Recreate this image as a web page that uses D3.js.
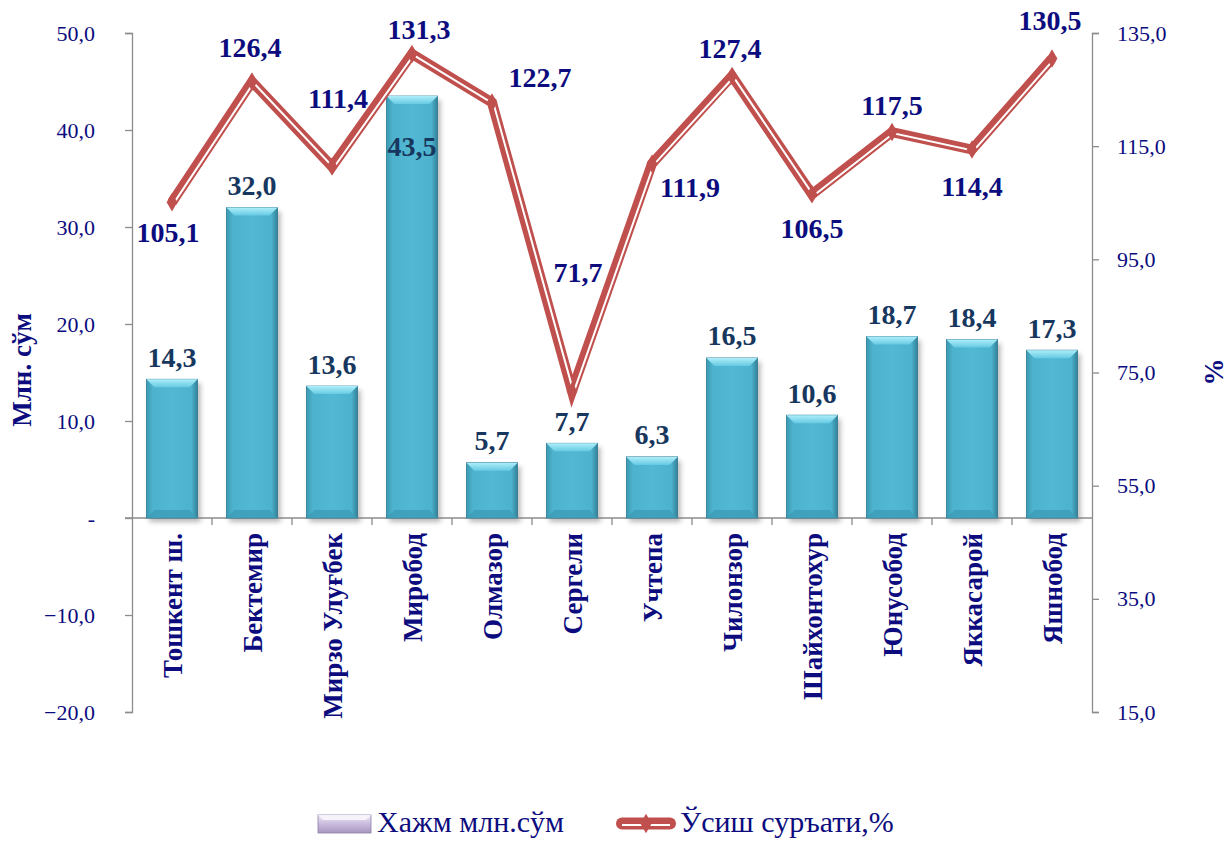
<!DOCTYPE html>
<html>
<head>
<meta charset="utf-8">
<script src="https://cdn.jsdelivr.net/npm/d3@7/dist/d3.min.js"></script>
<style>
  html, body { margin: 0; padding: 0; background: #ffffff; }
  svg { display: block; font-family: "Liberation Serif", "Times New Roman", serif; }
</style>
</head>
<body>
<svg id="chart" width="1228" height="841"></svg>
<script>
// Districts of Tashkent city
const categories = ["Тошкент ш.", "Бектемир", "Мирзо Улуғбек", "Миробод", "Олмазор", "Сергели",
  "Учтепа", "Чилонзор", "Шайхонтохур", "Юнусобод", "Яккасарой", "Яшнобод"];
// Volume, mln. sum (bars, left axis)
const volume = [14.3, 32.0, 13.6, 43.5, 5.7, 7.7, 6.3, 16.5, 10.6, 18.7, 18.4, 17.3];
// Growth rate, % (line, right axis)
const growth = [105.1, 126.4, 111.4, 131.3, 122.7, 71.7, 111.9, 127.4, 106.5, 117.5, 114.4, 130.5];
// Axis ticks
const leftTicks = [-20, -10, 0, 10, 20, 30, 40, 50];
const rightTicks = [15, 35, 55, 75, 95, 115, 135];
const seriesNames = ["Хажм млн.сўм", "Ўсиш суръати,%"];

// Label nudges (dx, dy) for the growth labels relative to their point
const growthLabelShift = [[-4, 30], [-2, -34], [6, -68], [7, -24], [48, -25], [6, -119],
  [38, 24], [-2, -28], [0, 34], [0, -27], [0, 37], [-2, -38]];
// Vertical nudge for volume labels relative to the bar top
const volumeLabelShift = volume.map((v, i) => i === 3 ? 50 : -22);

(function draw() {
const svg = d3.select("#chart");
const plotLeft = 132, plotRight = 1092, plotTop = 33, plotBottom = 712;
const navy = "#0c0c7e";
const labelNavy = "#17375e";

const x = d3.scaleBand().domain(categories).range([plotLeft, plotRight]).paddingInner(0.36).paddingOuter(0.18);
const yL = d3.scaleLinear().domain([-20, 50]).range([plotBottom, plotTop]);
const yR = d3.scaleLinear().domain([15, 135]).range([plotBottom, plotTop]);
const fmt = v => v === 0 ? "-" : d3.format(".1f")(v).replace(".", ",");

const defs = svg.append("defs");
const g1 = defs.append("linearGradient").attr("id", "barBody").attr("x1", 0).attr("x2", 1).attr("y1", 0).attr("y2", 0);
[[0, "#3a98b2"], [0.12, "#4db2cd"], [0.5, "#53b8d3"], [0.88, "#4db2cd"], [1, "#337f96"]]
  .forEach(s => g1.append("stop").attr("offset", s[0]).attr("stop-color", s[1]));
const g2 = defs.append("linearGradient").attr("id", "barTop").attr("x1", 0).attr("x2", 0).attr("y1", 0).attr("y2", 1);
[[0, "#aeeefb"], [1, "#66cae2"]].forEach(s => g2.append("stop").attr("offset", s[0]).attr("stop-color", s[1]));
const g3 = defs.append("linearGradient").attr("id", "legBar").attr("x1", 0).attr("x2", 0).attr("y1", 0).attr("y2", 1);
[[0, "#f1ebf7"], [0.45, "#cdbfe0"], [1, "#a796bf"]].forEach(s => g3.append("stop").attr("offset", s[0]).attr("stop-color", s[1]));
defs.append("filter").attr("id", "shadow").attr("x", "-20%").attr("y", "-20%").attr("width", "140%").attr("height", "140%")
  .append("feGaussianBlur").attr("stdDeviation", 2.5);

// Axes
const axisColor = "#8c8c8c";
const axL = svg.append("g").attr("transform", `translate(${plotLeft},0)`)
  .call(d3.axisLeft(yL).tickValues(leftTicks).tickFormat(fmt).tickSize(7).tickPadding(30));
const axR = svg.append("g").attr("transform", `translate(${plotRight},0)`)
  .call(d3.axisRight(yR).tickValues(rightTicks).tickFormat(fmt).tickSize(7).tickPadding(18));
[axL, axR].forEach(a => {
  a.select(".domain").attr("stroke", axisColor).attr("stroke-width", 1.3);
  a.selectAll(".tick line").attr("stroke", axisColor).attr("stroke-width", 1.3);
  a.selectAll(".tick text").attr("fill", navy).attr("font-size", 22)
    .attr("font-family", "Liberation Serif, serif");
});

// Zero baseline and category dividers
const y0 = yL(0);
svg.append("line").attr("x1", plotLeft - 7).attr("x2", plotRight).attr("y1", y0).attr("y2", y0)
  .attr("stroke", axisColor).attr("stroke-width", 1.3);
svg.append("g").selectAll("line").data(categories.slice(1)).join("line")
  .attr("x1", d => x(d) - x.step() * x.paddingInner() / 2)
  .attr("x2", d => x(d) - x.step() * x.paddingInner() / 2)
  .attr("y1", y0).attr("y2", y0 + 7).attr("stroke", axisColor).attr("stroke-width", 1.3);

// Bars with bevelled look
const bw = x.bandwidth();
const bars = svg.append("g").selectAll("g").data(volume).join("g")
  .attr("transform", (d, i) => `translate(${x(categories[i])},0)`);
bars.append("rect").attr("x", 3).attr("y", d => yL(d) + 4).attr("width", bw).attr("height", d => y0 - yL(d))
  .attr("fill", "#7f7f7f").attr("opacity", 0.55).attr("filter", "url(#shadow)");
bars.append("rect").attr("x", 0).attr("y", d => yL(d)).attr("width", bw).attr("height", d => y0 - yL(d))
  .attr("fill", "url(#barBody)").attr("stroke", "#2f7d94").attr("stroke-width", 0.8);
const bev = 8;
bars.append("path").attr("d", d => {
  const t = yL(d);
  return `M0,${t}L${bw},${t}L${bw - bev},${t + bev}L${bev},${t + bev}Z`;
}).attr("fill", "url(#barTop)");
bars.append("path").attr("d", () => {
  const b = y0;
  return `M0,${b}L${bw},${b}L${bw - bev},${b - bev}L${bev},${b - bev}Z`;
}).attr("fill", "#3c9cb6").attr("opacity", 0.8);

// Volume labels
svg.append("g").selectAll("text").data(volume).join("text")
  .attr("x", (d, i) => x(categories[i]) + bw / 2)
  .attr("y", (d, i) => yL(d) + volumeLabelShift[i])
  .attr("text-anchor", "middle").attr("dominant-baseline", "central")
  .attr("font-size", 28).attr("font-weight", "bold").attr("fill", labelNavy)
  .text(d => fmt(d));

// Growth line: double stroke
const cx = i => x(categories[i]) + bw / 2;
const line = d3.line().x((d, i) => cx(i)).y(d => yR(d));
svg.append("path").datum(growth).attr("d", line).attr("fill", "none")
  .attr("stroke", "#c0504d").attr("stroke-width", 10).attr("stroke-linejoin", "miter");
svg.append("path").datum(growth).attr("d", line).attr("fill", "none")
  .attr("transform", "translate(1.6,1.2)")
  .attr("stroke", "#ffffff").attr("stroke-width", 2).attr("stroke-linejoin", "miter");
svg.append("g").selectAll("path").data(growth).join("path")
  .attr("transform", (d, i) => `translate(${cx(i)},${yR(d)})`)
  .attr("d", d3.symbol(d3.symbolDiamond, 100)).attr("fill", "#c0504d");

// Growth labels
svg.append("g").selectAll("text").data(growth).join("text")
  .attr("x", (d, i) => cx(i) + growthLabelShift[i][0])
  .attr("y", (d, i) => yR(d) + growthLabelShift[i][1])
  .attr("text-anchor", "middle").attr("dominant-baseline", "central")
  .attr("font-size", 28).attr("font-weight", "bold").attr("fill", navy)
  .text(d => fmt(d));

// Category labels (rotated)
svg.append("g").selectAll("text").data(categories).join("text")
  .attr("transform", d => `translate(${x(d) + bw / 2 + 10},${y0 + 15}) rotate(-90)`)
  .attr("text-anchor", "end")
  .attr("font-size", 27).attr("font-weight", "bold").attr("fill", navy)
  .text(d => d);

// Axis titles
svg.append("text").attr("transform", "translate(31,370) rotate(-90)")
  .attr("text-anchor", "middle").attr("font-size", 27).attr("font-weight", "bold").attr("fill", navy)
  .text("Млн. сўм");
svg.append("text").attr("transform", "translate(1223,372) rotate(-90)")
  .attr("text-anchor", "middle").attr("font-size", 27).attr("font-weight", "bold").attr("fill", navy)
  .text("%");

// Legend
const leg = svg.append("g");
leg.append("rect").attr("x", 318).attr("y", 815).attr("width", 53).attr("height", 18)
  .attr("fill", "url(#legBar)").attr("stroke", "#8d7fa6").attr("stroke-width", 0.8);
leg.append("path").attr("d", "M318,815L371,815L366,820L323,820Z").attr("fill", "#f7f3fb");
leg.append("text").attr("x", 377).attr("y", 832).attr("font-size", 30).attr("fill", navy).text(seriesNames[0]);
leg.append("line").attr("x1", 622).attr("x2", 670).attr("y1", 823.5).attr("y2", 823.5)
  .attr("stroke", "#c0504d").attr("stroke-width", 12).attr("stroke-linecap", "round");
leg.append("line").attr("x1", 622).attr("x2", 670).attr("y1", 825).attr("y2", 825)
  .attr("stroke", "#ffffff").attr("stroke-width", 2);
leg.append("path").attr("transform", "translate(646,823.5)").attr("d", d3.symbol(d3.symbolDiamond, 110)).attr("fill", "#c0504d");
leg.append("text").attr("x", 680).attr("y", 832).attr("font-size", 30).attr("fill", navy).text(seriesNames[1]);
})();
</script>
</body>
</html>
